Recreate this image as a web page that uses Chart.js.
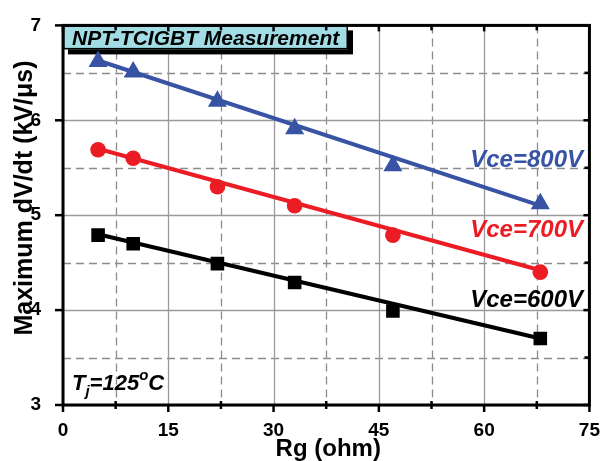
<!DOCTYPE html>
<html lang="en">
<head>
  <meta charset="UTF-8">
  <title>NPT-TCIGBT dV/dt vs Rg</title>
  <script src="https://cdn.jsdelivr.net/npm/chart.js"></script>
  <style>
    html, body { margin: 0; padding: 0; background: #fff; }
    #wrap { width: 606px; height: 461px; position: relative; }
  </style>
</head>
<body>
  <div id="wrap"><canvas id="myChart"></canvas></div>
  <script>
    // measured points (Rg in ohm, dV/dt in kV/us)
    const rg = [5, 10, 22, 33, 47, 68];
    const vce800 = [6.62, 6.51, 6.20, 5.91, 5.52, 5.12];
    const vce700 = [5.69, 5.60, 5.30, 5.10, 4.79, 4.40];
    const vce600 = [4.79, 4.70, 4.49, 4.29, 3.99, 3.70];

    // straight fit lines, read at both ends
    const fitRg = [5, 68];
    const fit800 = [6.63, 5.10];
    const fit700 = [5.70, 4.42];
    const fit600 = [4.80, 3.70];

    const xTicks = [0, 15, 30, 45, 60, 75];
    const yTicks = [3, 4, 5, 6, 7];

    const BLUE = '#3953a4';
    const RED = '#ec1c24';
    const FONT = '"Liberation Sans", Arial, sans-serif';

    function pts(xs, ys) {
      return xs.map((x, i) => ({ x: x, y: ys[i] }));
    }

    function markers(label, ys, color, style, radius) {
      return {
        label: label,
        data: pts(rg, ys),
        showLine: false,
        pointStyle: style,
        pointRadius: radius,
        pointHoverRadius: radius,
        backgroundColor: color,
        borderColor: color,
        borderWidth: 0
      };
    }

    function fitLine(label, ys, color) {
      return {
        label: label,
        data: pts(fitRg, ys),
        showLine: true,
        pointRadius: 0,
        borderColor: color,
        borderWidth: 4,
        fill: false
      };
    }

    // grid, frame, tick marks and annotations
    const decor = {
      id: 'decor',
      beforeDatasetsDraw(chart) {
        const { ctx, chartArea: a, scales: { x, y } } = chart;
        ctx.save();
        ctx.lineWidth = 1.3;
        // minor dashed grid
        ctx.strokeStyle = '#8c8c8c';
        ctx.setLineDash([8, 5]);
        for (let v = 7.5; v < 75; v += 15) {
          const px = Math.round(x.getPixelForValue(v)) + 0.5;
          ctx.beginPath(); ctx.moveTo(px, a.top); ctx.lineTo(px, a.bottom); ctx.stroke();
        }
        for (let v = 3.5; v < 7; v += 1) {
          const py = Math.round(y.getPixelForValue(v)) + 0.5;
          ctx.beginPath(); ctx.moveTo(a.left, py); ctx.lineTo(a.right, py); ctx.stroke();
        }
        // major solid grid
        ctx.setLineDash([]);
        ctx.strokeStyle = '#9a9a9a';
        xTicks.forEach(v => {
          const px = Math.round(x.getPixelForValue(v)) + 0.5;
          ctx.beginPath(); ctx.moveTo(px, a.top); ctx.lineTo(px, a.bottom); ctx.stroke();
        });
        yTicks.forEach(v => {
          const py = Math.round(y.getPixelForValue(v)) + 0.5;
          ctx.beginPath(); ctx.moveTo(a.left, py); ctx.lineTo(a.right, py); ctx.stroke();
        });

        // title box with shadow
        const bx = a.left, by = a.top, bw = 285, bh = 24;
        ctx.fillStyle = '#000';
        ctx.fillRect(bx + 5, by + 5, bw, bh);
        ctx.fillStyle = '#a2dde6';
        ctx.fillRect(bx, by, bw, bh);
        ctx.strokeStyle = '#000';
        ctx.lineWidth = 1.5;
        ctx.strokeRect(bx + 0.75, by + 0.75, bw - 1.5, bh - 1.5);
        ctx.fillStyle = '#000';
        ctx.font = 'italic bold 21px ' + FONT;
        ctx.textBaseline = 'alphabetic';
        ctx.textAlign = 'left';
        ctx.fillText('NPT-TCIGBT Measurement', bx + 9, by + 20);
        ctx.restore();
      },
      afterDraw(chart) {
        const { ctx, chartArea: a, scales: { x, y } } = chart;
        ctx.save();
        // frame
        ctx.strokeStyle = '#000';
        ctx.lineWidth = 3;
        ctx.strokeRect(a.left, a.top, a.right - a.left, a.bottom - a.top);
        ctx.lineWidth = 2.5;
        // major ticks: outward left/bottom, inward right/top
        yTicks.forEach(v => {
          const py = y.getPixelForValue(v);
          ctx.beginPath(); ctx.moveTo(a.left - 8, py); ctx.lineTo(a.left, py); ctx.stroke();
          ctx.beginPath(); ctx.moveTo(a.right - 6, py); ctx.lineTo(a.right, py); ctx.stroke();
        });
        xTicks.forEach(v => {
          const px = x.getPixelForValue(v);
          ctx.beginPath(); ctx.moveTo(px, a.bottom); ctx.lineTo(px, a.bottom + 7); ctx.stroke();
          ctx.beginPath(); ctx.moveTo(px, a.top); ctx.lineTo(px, a.top + 6); ctx.stroke();
        });
        // minor ticks
        for (let v = 7.5; v < 75; v += 15) {
          const px = x.getPixelForValue(v);
          ctx.beginPath(); ctx.moveTo(px, a.bottom - 4); ctx.lineTo(px, a.bottom + 4); ctx.stroke();
          ctx.beginPath(); ctx.moveTo(px, a.top); ctx.lineTo(px, a.top + 5); ctx.stroke();
        }
        for (let v = 3.5; v < 7; v += 1) {
          const py = y.getPixelForValue(v);
          ctx.beginPath(); ctx.moveTo(a.right - 5, py); ctx.lineTo(a.right, py); ctx.stroke();
        }

        // series labels
        ctx.font = 'italic bold 24px ' + FONT;
        ctx.textAlign = 'right';
        ctx.textBaseline = 'alphabetic';
        ctx.fillStyle = BLUE;
        ctx.fillText('Vce=800V', 583, 167);
        ctx.fillStyle = RED;
        ctx.fillText('Vce=700V', 583, 237);
        ctx.fillStyle = '#000';
        ctx.fillText('Vce=600V', 583, 307);

        // Tj=125oC
        ctx.textAlign = 'left';
        let tx = 72;
        const base = 390;
        const parts = [
          ['T', 22, 0], ['j', 15, 6], ['=125', 22, 0], ['o', 15, -10], ['C', 22, 0]
        ];
        parts.forEach(p => {
          ctx.font = 'italic bold ' + p[1] + 'px ' + FONT;
          ctx.fillText(p[0], tx, base + p[2]);
          tx += ctx.measureText(p[0]).width;
        });

        // axis titles
        ctx.font = 'bold 24px ' + FONT;
        ctx.textAlign = 'center';
        ctx.fillText('Rg (ohm)', (a.left + a.right) / 2 + 2, 456);
        ctx.font = 'bold 25px ' + FONT;
        ctx.translate(32, 198);
        ctx.rotate(-Math.PI / 2);
        ctx.fillText('Maximum dV/dt (kV/\u03bcs)', 0, 0);
        ctx.restore();
      }
    };

    const ctx = document.getElementById('myChart').getContext('2d');
    new Chart(ctx, {
      type: 'scatter',
      data: {
        datasets: [
          fitLine('fit 800V', fit800, BLUE),
          fitLine('fit 700V', fit700, RED),
          fitLine('fit 600V', fit600, '#000'),
          markers('Vce=800V', vce800, BLUE, 'triangle', 11),
          markers('Vce=700V', vce700, RED, 'circle', 7.8),
          markers('Vce=600V', vce600, '#000', 'rect', 9.6)
        ]
      },
      options: {
        responsive: true,
        maintainAspectRatio: false,
        animation: false,
        events: [],
        layout: { padding: { top: 18, right: 13, left: 0, bottom: 0 } },
        plugins: {
          legend: { display: false },
          tooltip: { enabled: false }
        },
        scales: {
          x: {
            type: 'linear',
            min: 0, max: 75,
            grid: { display: false },
            border: { display: false },
            afterBuildTicks(scale) { scale.ticks = xTicks.map(v => ({ value: v })); },
            afterFit(scale) { scale.height = 56; },
            ticks: {
              color: '#000',
              padding: 6,
              maxRotation: 0,
              font: { family: FONT, size: 19, weight: 'bold' }
            }
          },
          y: {
            type: 'linear',
            min: 3, max: 7,
            grid: { display: false },
            border: { display: false },
            afterBuildTicks(scale) { scale.ticks = yTicks.map(v => ({ value: v })); },
            afterFit(scale) { scale.width = 63; },
            ticks: {
              color: '#000',
              padding: 14,
              font: { family: FONT, size: 19, weight: 'bold' }
            }
          }
        }
      },
      plugins: [decor]
    });
  </script>
</body>
</html>
